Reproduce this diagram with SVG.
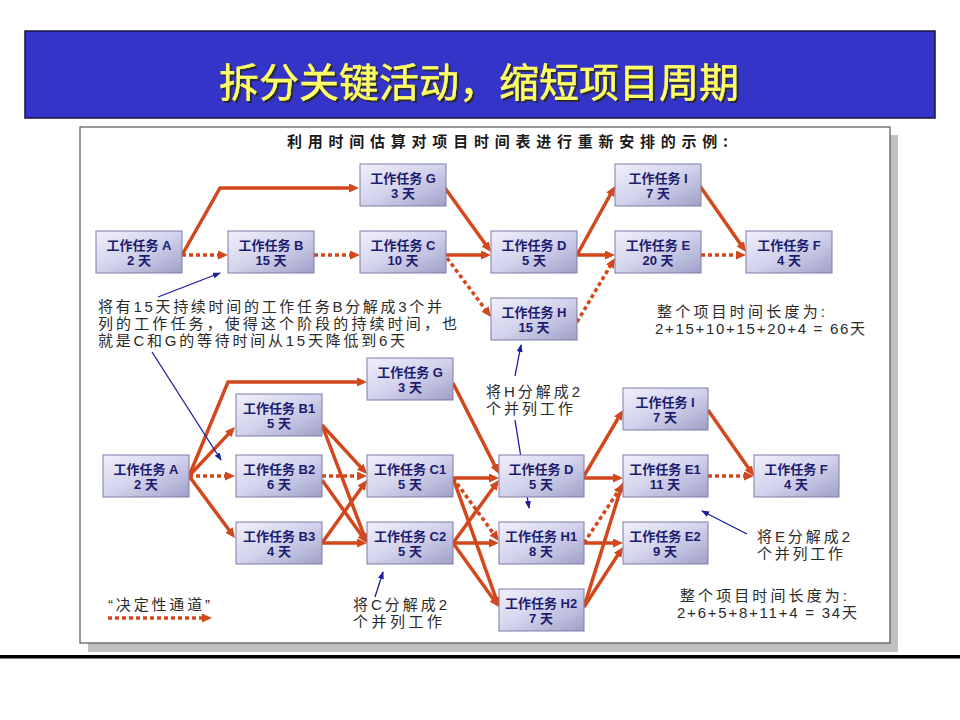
<svg xmlns="http://www.w3.org/2000/svg" width="960" height="720" viewBox="0 0 960 720">
<style>
.node rect{fill:url(#ng);stroke:#7C7CA8;stroke-width:1}
.node text{font-family:"Liberation Sans","Noto Sans CJK SC",sans-serif;font-weight:bold;font-size:13px;fill:#1C1C6E;text-anchor:middle}
.c{fill:none;stroke:#D2481C;stroke-width:3.5;marker-end:url(#ah)}
.d{fill:none;stroke:#D2481C;stroke-width:3.5;stroke-dasharray:4 3;marker-end:url(#ah)}
.b{fill:none;stroke:#1C1CA0;stroke-width:1.3;marker-end:url(#bh)}
.t{font-family:"Liberation Sans","Noto Sans CJK SC",sans-serif;font-size:15px;fill:#2A2A2A}
</style>
<defs>
<linearGradient id="ng" x1="0" y1="0" x2="1" y2="1">
<stop offset="0" stop-color="#F0F0FB"/>
<stop offset="0.5" stop-color="#D2D2EC"/>
<stop offset="1" stop-color="#A0A0C8"/>
</linearGradient>
<filter id="sh" x="-5%" y="-20%" width="110%" height="140%">
<feDropShadow dx="2" dy="2" stdDeviation="0.6" flood-color="#2A2A20" flood-opacity="0.9"/>
</filter>
<marker id="ah" markerUnits="userSpaceOnUse" markerWidth="11" markerHeight="10" refX="6" refY="4.5" orient="auto">
<path d="M0,0 L10,4.5 L0,9 z" fill="#D2481C"/>
</marker>
<marker id="bh" markerUnits="userSpaceOnUse" markerWidth="9" markerHeight="7" refX="7" refY="3" orient="auto">
<path d="M0,0 L8,3 L0,6 z" fill="#1C1CA0"/>
</marker>
</defs>
<rect width="960" height="720" fill="#FFFFFF"/>
<!-- title bar -->
<rect x="25" y="31" width="910" height="87" fill="#3434C8" stroke="#151540" stroke-width="1.5"/>
<text x="479" y="97" font-family="Noto Sans CJK SC,sans-serif" font-size="40" fill="#FFFF66" stroke="#FFFF66" stroke-width="0.4" text-anchor="middle" filter="url(#sh)">拆分关键活动，缩短项目周期</text>
<!-- panel -->
<rect x="88" y="135" width="810" height="517" fill="#C0C0C0"/>
<rect x="80" y="127" width="810" height="516" fill="#FFFFFF" stroke="#555555" stroke-width="1.2"/>
<rect x="0" y="655" width="960" height="3.5" fill="#000000"/>
<text x="287" y="147" font-family="Noto Sans CJK SC,sans-serif" font-weight="bold" font-size="15" fill="#1A1A1A" textLength="441" lengthAdjust="spacing">利用时间估算对项目时间表进行重新安排的示例:</text>

<g id="connectors">
<!-- top diagram -->
<polyline class="c" points="182,255 220,188 355,188"/>
<line class="d" x1="182" y1="255" x2="224" y2="255"/>
<line class="d" x1="314" y1="255" x2="356" y2="255"/>
<line class="c" x1="445" y1="188" x2="488.7" y2="248.8"/>
<line class="c" x1="445" y1="255" x2="487" y2="255"/>
<line class="d" x1="447" y1="258" x2="488.6" y2="313.8"/>
<line class="c" x1="577" y1="255" x2="613.1" y2="189.5"/>
<line class="c" x1="577" y1="255" x2="611" y2="255"/>
<line class="d" x1="577" y1="322" x2="613" y2="261.4"/>
<line class="c" x1="700" y1="186" x2="743.7" y2="248.7"/>
<line class="d" x1="701" y1="255" x2="742" y2="255"/>
<!-- bottom diagram -->
<polyline class="c" points="189,476 228,382 363,382"/>
<line class="c" x1="189" y1="476" x2="232.3" y2="429.9"/>
<line class="d" x1="189" y1="476" x2="231" y2="476"/>
<line class="c" x1="189" y1="476" x2="232.6" y2="534.8"/>
<line class="c" x1="322" y1="425" x2="364.3" y2="471.1"/>
<line class="c" x1="322" y1="425" x2="365.6" y2="539.3"/>
<line class="d" x1="322" y1="476" x2="363" y2="476"/>
<line class="c" x1="322" y1="480" x2="364.7" y2="539.7"/>
<line class="c" x1="322" y1="543" x2="364.7" y2="483.3"/>
<line class="c" x1="322" y1="543" x2="363" y2="543"/>
<line class="c" x1="453" y1="383" x2="497.2" y2="470.4"/>
<line class="c" x1="453" y1="478" x2="495" y2="478"/>
<line class="d" x1="453" y1="478" x2="496.6" y2="537.8"/>
<line class="c" x1="453" y1="478" x2="497.7" y2="603.2"/>
<line class="c" x1="453" y1="543" x2="496.6" y2="483.2"/>
<line class="c" x1="453" y1="543" x2="495" y2="543"/>
<line class="c" x1="453" y1="543" x2="496.7" y2="603.8"/>
<line class="c" x1="584" y1="476" x2="621" y2="413.4"/>
<line class="c" x1="584" y1="478" x2="619" y2="478"/>
<line class="d" x1="584" y1="543" x2="620.8" y2="487.3"/>
<line class="c" x1="584" y1="543" x2="619" y2="543"/>
<line class="c" x1="584" y1="607" x2="621.8" y2="485.8"/>
<line class="c" x1="584" y1="607" x2="620.8" y2="550.4"/>
<line class="c" x1="708" y1="410" x2="751.7" y2="472.7"/>
<line class="d" x1="708" y1="476" x2="750" y2="476"/>
<!-- legend -->
<line class="d" x1="108" y1="618" x2="208" y2="618"/>
<!-- annotation arrows -->
<line class="b" x1="158" y1="297" x2="220" y2="273"/>
<line class="b" x1="152" y1="352" x2="221" y2="460"/>
<line class="b" x1="515" y1="376" x2="521" y2="345"/>
<line class="b" x1="515" y1="420" x2="529" y2="508"/>
<line class="b" x1="375" y1="597" x2="383" y2="572"/>
<line class="b" x1="747" y1="534" x2="702" y2="511"/>
</g>

<!-- top nodes -->
<g id="node-A" class="node"><rect x="96" y="231" width="86" height="42"/><text x="139" y="250">工作任务 A<tspan x="139" dy="15">2 天</tspan></text></g>
<g id="node-B" class="node"><rect x="228" y="231" width="86" height="42"/><text x="271" y="250">工作任务 B<tspan x="271" dy="15">15 天</tspan></text></g>
<g id="node-C" class="node"><rect x="360" y="231" width="86" height="42"/><text x="403" y="250">工作任务 C<tspan x="403" dy="15">10 天</tspan></text></g>
<g id="node-G" class="node"><rect x="360" y="164" width="86" height="42"/><text x="403" y="183">工作任务 G<tspan x="403" dy="15">3 天</tspan></text></g>
<g id="node-D" class="node"><rect x="491" y="231" width="86" height="42"/><text x="534" y="250">工作任务 D<tspan x="534" dy="15">5 天</tspan></text></g>
<g id="node-H" class="node"><rect x="491" y="298" width="86" height="42"/><text x="534" y="317">工作任务 H<tspan x="534" dy="15">15 天</tspan></text></g>
<g id="node-I" class="node"><rect x="615" y="164" width="86" height="42"/><text x="658" y="183">工作任务 I<tspan x="658" dy="15">7 天</tspan></text></g>
<g id="node-E" class="node"><rect x="615" y="231" width="86" height="42"/><text x="658" y="250">工作任务 E<tspan x="658" dy="15">20 天</tspan></text></g>
<g id="node-F" class="node"><rect x="746" y="231" width="86" height="42"/><text x="789" y="250">工作任务 F<tspan x="789" dy="15">4 天</tspan></text></g>

<!-- bottom nodes -->
<g id="node-A2" class="node"><rect x="103" y="455" width="86" height="42"/><text x="146" y="474">工作任务 A<tspan x="146" dy="15">2 天</tspan></text></g>
<g id="node-B1" class="node"><rect x="236" y="394" width="86" height="42"/><text x="279" y="413">工作任务 B1<tspan x="279" dy="15">5 天</tspan></text></g>
<g id="node-B2" class="node"><rect x="236" y="455" width="86" height="42"/><text x="279" y="474">工作任务 B2<tspan x="279" dy="15">6 天</tspan></text></g>
<g id="node-B3" class="node"><rect x="236" y="522" width="86" height="42"/><text x="279" y="541">工作任务 B3<tspan x="279" dy="15">4 天</tspan></text></g>
<g id="node-G2" class="node"><rect x="367" y="358" width="86" height="42"/><text x="410" y="377">工作任务 G<tspan x="410" dy="15">3 天</tspan></text></g>
<g id="node-C1" class="node"><rect x="367" y="455" width="86" height="42"/><text x="410" y="474">工作任务 C1<tspan x="410" dy="15">5 天</tspan></text></g>
<g id="node-C2" class="node"><rect x="367" y="522" width="86" height="42"/><text x="410" y="541">工作任务 C2<tspan x="410" dy="15">5 天</tspan></text></g>
<g id="node-D2" class="node"><rect x="499" y="455" width="85" height="42"/><text x="541" y="474">工作任务 D<tspan x="541" dy="15">5 天</tspan></text></g>
<g id="node-H1" class="node"><rect x="499" y="522" width="85" height="42"/><text x="541" y="541">工作任务 H1<tspan x="541" dy="15">8 天</tspan></text></g>
<g id="node-H2" class="node"><rect x="499" y="589" width="85" height="42"/><text x="541" y="608">工作任务 H2<tspan x="541" dy="15">7 天</tspan></text></g>
<g id="node-I2" class="node"><rect x="623" y="388" width="85" height="42"/><text x="665" y="407">工作任务 I<tspan x="665" dy="15">7 天</tspan></text></g>
<g id="node-E1" class="node"><rect x="623" y="455" width="85" height="42"/><text x="665" y="474">工作任务 E1<tspan x="665" dy="15">11 天</tspan></text></g>
<g id="node-E2" class="node"><rect x="623" y="522" width="85" height="42"/><text x="665" y="541">工作任务 E2<tspan x="665" dy="15">9 天</tspan></text></g>
<g id="node-F2" class="node"><rect x="754" y="455" width="85" height="42"/><text x="796" y="474">工作任务 F<tspan x="796" dy="15">4 天</tspan></text></g>

<!-- annotations -->
<g id="notes">
<text class="t" x="98" y="312"><tspan x="98" textLength="344" lengthAdjust="spacing">将有15天持续时间的工作任务B分解成3个并</tspan><tspan x="98" y="329" textLength="359" lengthAdjust="spacing">列的工作任务，使得这个阶段的持续时间，也</tspan><tspan x="98" y="346" textLength="307" lengthAdjust="spacing">就是C和G的等待时间从15天降低到6天</tspan></text>
<text class="t" x="657" y="317"><tspan x="657" textLength="168" lengthAdjust="spacing">整个项目时间长度为:</tspan><tspan x="655" y="334" textLength="210" lengthAdjust="spacing">2+15+10+15+20+4 = 66天</tspan></text>
<text class="t" x="486" y="397"><tspan x="486" textLength="94" lengthAdjust="spacing">将H分解成2</tspan><tspan x="486" y="414" textLength="87" lengthAdjust="spacing">个并列工作</tspan></text>
<text class="t" x="353" y="610"><tspan x="353" textLength="94" lengthAdjust="spacing">将C分解成2</tspan><tspan x="353" y="627" textLength="89" lengthAdjust="spacing">个并列工作</tspan></text>
<text class="t" x="757" y="542"><tspan x="757" textLength="93" lengthAdjust="spacing">将E分解成2</tspan><tspan x="757" y="559" textLength="86" lengthAdjust="spacing">个并列工作</tspan></text>
<text class="t" x="680" y="601"><tspan x="680" textLength="167" lengthAdjust="spacing">整个项目时间长度为:</tspan><tspan x="677" y="618" textLength="180" lengthAdjust="spacing">2+6+5+8+11+4 = 34天</tspan></text>
<text class="t" x="108" y="610" textLength="102" lengthAdjust="spacing">“决定性通道”</text>
</g>
</svg>
